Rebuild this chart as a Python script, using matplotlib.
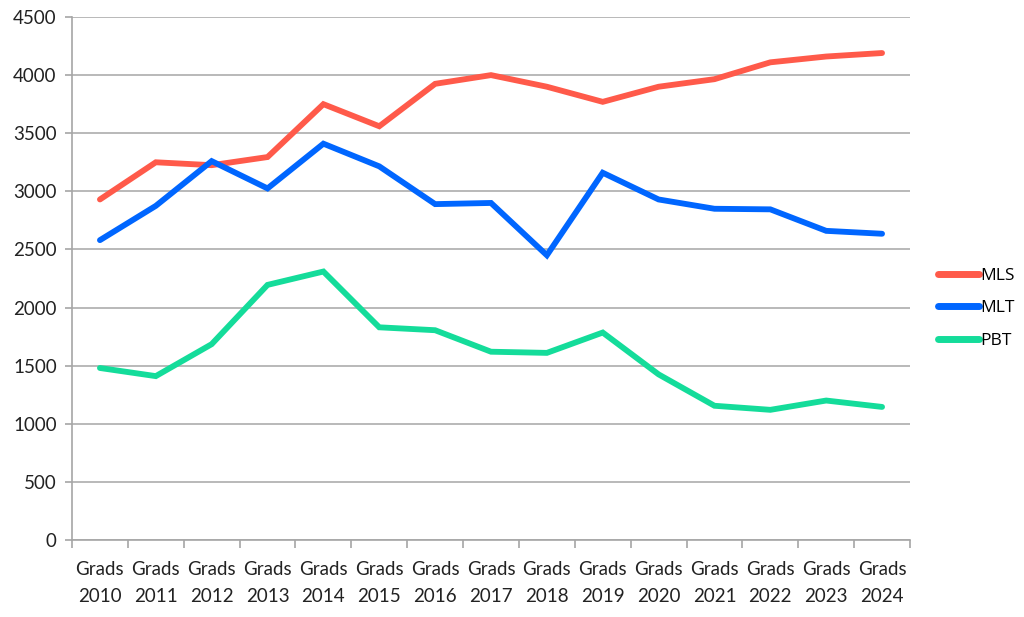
import matplotlib
matplotlib.use("Agg")
import matplotlib.pyplot as plt
import numpy as np

categories = ["Grads\n2010", "Grads\n2011", "Grads\n2012", "Grads\n2013", "Grads\n2014",
              "Grads\n2015", "Grads\n2016", "Grads\n2017", "Grads\n2018", "Grads\n2019",
              "Grads\n2020", "Grads\n2021", "Grads\n2022", "Grads\n2023", "Grads\n2024"]
mls = [2930, 3250, 3225, 3295, 3750, 3560, 3925, 4000, 3900, 3770, 3900, 3965, 4110, 4160, 4190]
mlt = [2580, 2875, 3260, 3025, 3410, 3215, 2890, 2900, 2450, 3160, 2930, 2850, 2845, 2660, 2635]
pbt = [1480, 1410, 1685, 2195, 2310, 1830, 1805, 1620, 1610, 1785, 1425, 1155, 1120, 1200, 1145]
series_names = ["MLS", "MLT", "PBT"]
colors = ["#FF5A4A", "#0066FF", "#14DC9A"]
yticks = [0, 500, 1000, 1500, 2000, 2500, 3000, 3500, 4000, 4500]

plt.rcParams['font.family'] = ['Lato', 'DejaVu Sans']

fig = plt.figure(figsize=(10.24, 6.17), dpi=100)
ax = fig.add_axes([72/1024, 77/617, 838/1024, 523/617])

x = np.arange(len(categories))
for vals, name, c in zip([mls, mlt, pbt], series_names, colors):
    ax.plot(x, vals, color=c, lw=4.2, solid_capstyle='round', solid_joinstyle='miter', label=name)

ax.set_xlim(-0.5, len(categories) - 0.5)
ax.set_ylim(0, 4500)
ax.set_yticks(yticks)
ax.set_yticklabels([str(v) for v in yticks], fontsize=13.5, color='#222222')
ax.set_xticks(x)
ax.set_xticklabels(categories, fontsize=13.5, color='#222222', linespacing=1.75)
ax.set_xticks(np.arange(-0.5, len(categories), 1), minor=True)
ax.tick_params(axis='x', which='major', length=0, pad=15)
ax.tick_params(axis='x', which='minor', length=6, color='#A6A6A6', width=1.2)
ax.tick_params(axis='y', length=5, color='#A6A6A6', width=1.2, pad=6)

ax.grid(axis='y', color='#B3B3B3', lw=1.3)
ax.set_axisbelow(True)
for s in ['top', 'right']:
    ax.spines[s].set_visible(False)
for s in ['left', 'bottom']:
    ax.spines[s].set_color('#A6A6A6')
    ax.spines[s].set_linewidth(1.2)

leg = fig.legend(loc='upper left', bbox_to_anchor=(922/1024, 1 - 252/617), frameon=False,
                 handlelength=2.4, handletextpad=0.05, labelspacing=0.95,
                 prop={'family': ['Open Sans', 'DejaVu Sans'], 'size': 12.5})
for line in leg.get_lines():
    line.set_linewidth(5)

fig.savefig("out.png", dpi=100)
